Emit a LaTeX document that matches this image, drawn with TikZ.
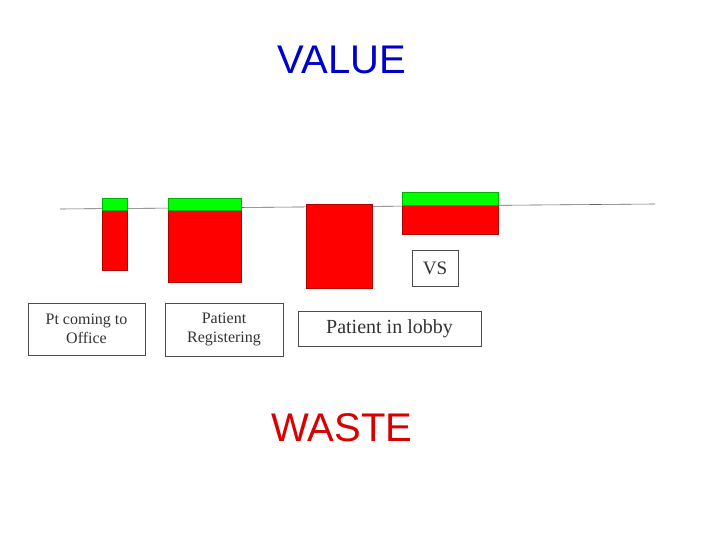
\documentclass[tikz,border=0pt]{standalone}
\usepackage{fontspec}
\setmainfont{Liberation Serif}
\newfontfamily\arial{Liberation Sans}
\begin{document}
\begin{tikzpicture}[x=1pt,y=-1pt,
  redbar/.style={fill=red,draw=red!70!black,line width=0.4pt},
  greenbar/.style={fill=green,draw=green!70!black,line width=0.4pt},
  label/.style={draw=black!70,line width=0.5pt,align=center,inner sep=2pt,font=\fontsize{16}{19}\selectfont,text=black!80}]
\useasboundingbox (0,0) rectangle (720,540);
\fill[white] (0,0) rectangle (720,540);
\node[font=\arial\fontsize{40}{44}\selectfont,text=blue!80!black] (value) at (342,60) {VALUE};
\node[font=\arial\fontsize{40}{44}\selectfont,text=red!85!black] (waste) at (342,428) {WASTE};
\coordinate (l0) at (60,209);
\coordinate (l1) at (655,204);
\draw[black!60,line width=0.6pt] (l0) -- (l1);
\draw[redbar] (102,210) rectangle (127,270);
\draw[greenbar] (102,198) rectangle (127,210);
\draw[redbar] (168,210) rectangle (241,282);
\draw[greenbar] (168,198) rectangle (241,210);
\draw[redbar] (306,204) rectangle (372,288);
\draw[redbar] (402,205) rectangle (498,234);
\draw[greenbar] (402,192) rectangle (498,205);
\node[label,minimum width=46pt,minimum height=36pt,font=\fontsize{19}{22}\selectfont] (vs) at (435,268) {VS};
\node[label,minimum width=117pt,minimum height=52pt] (pt) at (86.5,329) {Pt coming to\\Office};
\node[label,minimum width=118pt,minimum height=53pt] (reg) at (224,329.5) {Patient\\Registering};
\node[label,minimum width=183pt,minimum height=35pt,font=\fontsize{20}{24}\selectfont] (lobby) at (389.5,328.5) {Patient in lobby};
\end{tikzpicture}
\end{document}
